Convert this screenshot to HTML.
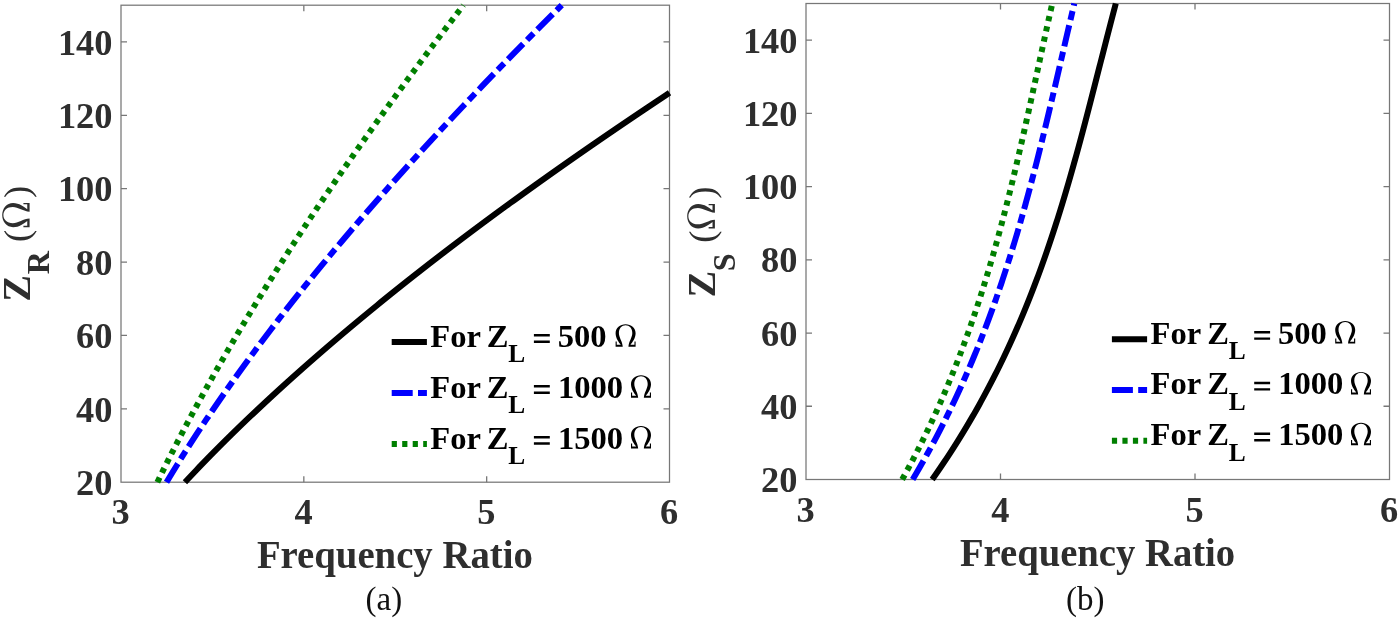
<!DOCTYPE html>
<html><head><meta charset="utf-8"><title>Frequency Ratio plots</title>
<style>html,body{margin:0;padding:0;background:#fff;}body{width:1400px;height:620px;overflow:hidden;font-family:"Liberation Serif",serif;}svg{display:block;will-change:transform;}</style>
</head><body>
<svg width="1400" height="620" viewBox="0 0 1400 620">
<rect width="1400" height="620" fill="#fff"/>
<path d="M303.83,482.20V476.20M303.83,5.20V11.20M486.67,482.20V476.20M486.67,5.20V11.20M121.00,408.82H127.00M669.50,408.82H663.50M121.00,335.43H127.00M669.50,335.43H663.50M121.00,262.05H127.00M669.50,262.05H663.50M121.00,188.66H127.00M669.50,188.66H663.50M121.00,115.28H127.00M669.50,115.28H663.50M121.00,41.89H127.00M669.50,41.89H663.50" stroke="#777777" stroke-width="1.3" fill="none"/><rect x="121.00" y="5.20" width="548.50" height="477.00" fill="none" stroke="#777777" stroke-width="1.25"/>
<path d="M1000.50,479.50V473.50M1000.50,3.50V9.50M1195.00,479.50V473.50M1195.00,3.50V9.50M806.00,406.27H812.00M1389.50,406.27H1383.50M806.00,333.04H812.00M1389.50,333.04H1383.50M806.00,259.81H812.00M1389.50,259.81H1383.50M806.00,186.58H812.00M1389.50,186.58H1383.50M806.00,113.35H812.00M1389.50,113.35H1383.50M806.00,40.12H812.00M1389.50,40.12H1383.50" stroke="#777777" stroke-width="1.3" fill="none"/><rect x="806.00" y="3.50" width="583.50" height="476.00" fill="none" stroke="#777777" stroke-width="1.25"/>
<g fill="none" stroke-width="6.00"><path d="M184.93,482.20 L187.75,479.20 L190.57,476.20 L193.42,473.20 L196.28,470.20 L199.16,467.20 L202.06,464.20 L204.97,461.20 L207.89,458.20 L210.83,455.20 L213.79,452.20 L216.76,449.20 L219.75,446.20 L222.76,443.20 L225.78,440.20 L228.82,437.20 L231.87,434.20 L234.94,431.20 L238.02,428.20 L241.12,425.20 L244.23,422.20 L247.36,419.20 L250.50,416.20 L253.66,413.20 L256.84,410.20 L260.03,407.20 L263.23,404.20 L266.45,401.20 L269.69,398.20 L272.94,395.20 L276.21,392.20 L279.49,389.20 L282.78,386.20 L286.09,383.20 L289.42,380.20 L292.75,377.20 L296.11,374.20 L299.48,371.20 L302.86,368.20 L306.26,365.20 L309.67,362.20 L313.10,359.20 L316.54,356.20 L319.99,353.20 L323.46,350.20 L326.95,347.20 L330.45,344.20 L333.96,341.20 L337.48,338.20 L341.02,335.20 L344.58,332.20 L348.15,329.20 L351.73,326.20 L355.33,323.20 L358.94,320.20 L362.56,317.20 L366.20,314.20 L369.85,311.20 L373.52,308.20 L377.19,305.20 L380.89,302.20 L384.59,299.20 L388.31,296.20 L392.05,293.20 L395.79,290.20 L399.55,287.20 L403.32,284.20 L407.11,281.20 L410.91,278.20 L414.72,275.20 L418.55,272.20 L422.39,269.20 L426.24,266.20 L430.10,263.20 L433.98,260.20 L437.87,257.20 L441.78,254.20 L445.69,251.20 L449.62,248.20 L453.56,245.20 L457.52,242.20 L461.49,239.20 L465.47,236.20 L469.46,233.20 L473.46,230.20 L477.48,227.20 L481.51,224.20 L485.55,221.20 L489.61,218.20 L493.67,215.20 L497.75,212.20 L501.84,209.20 L505.95,206.20 L510.06,203.20 L514.19,200.20 L518.33,197.20 L522.48,194.20 L526.64,191.20 L530.82,188.20 L535.01,185.20 L539.20,182.20 L543.42,179.20 L547.64,176.20 L551.87,173.20 L556.12,170.20 L560.37,167.20 L564.64,164.20 L568.92,161.20 L573.21,158.20 L577.52,155.20 L581.83,152.20 L586.15,149.20 L590.49,146.20 L594.84,143.20 L599.20,140.20 L603.57,137.20 L607.95,134.20 L612.34,131.20 L616.74,128.20 L621.16,125.20 L625.58,122.20 L630.02,119.20 L634.46,116.20 L638.92,113.20 L643.39,110.20 L647.87,107.20 L652.35,104.20 L656.85,101.20 L661.36,98.20 L665.88,95.20 L669.50,92.81" stroke="#000"/><path d="M166.52,482.20 L168.32,479.20 L170.14,476.20 L171.96,473.20 L173.79,470.20 L175.64,467.20 L177.49,464.20 L179.35,461.20 L181.23,458.20 L183.11,455.20 L185.01,452.20 L186.91,449.20 L188.83,446.20 L190.75,443.20 L192.69,440.20 L194.64,437.20 L196.59,434.20 L198.56,431.20 L200.53,428.20 L202.52,425.20 L204.52,422.20 L206.52,419.20 L208.54,416.20 L210.56,413.20 L212.60,410.20 L214.64,407.20 L216.70,404.20 L218.76,401.20 L220.84,398.20 L222.92,395.20 L225.01,392.20 L227.12,389.20 L229.23,386.20 L231.35,383.20 L233.48,380.20 L235.62,377.20 L237.77,374.20 L239.93,371.20 L242.10,368.20 L244.28,365.20 L246.46,362.20 L248.66,359.20 L250.86,356.20 L253.08,353.20 L255.30,350.20 L257.53,347.20 L259.77,344.20 L262.02,341.20 L264.28,338.20 L266.55,335.20 L268.83,332.20 L271.11,329.20 L273.41,326.20 L275.71,323.20 L278.02,320.20 L280.34,317.20 L282.67,314.20 L285.01,311.20 L287.35,308.20 L289.71,305.20 L292.07,302.20 L294.44,299.20 L296.82,296.20 L299.21,293.20 L301.60,290.20 L304.01,287.20 L306.42,284.20 L308.84,281.20 L311.27,278.20 L313.71,275.20 L316.16,272.20 L318.61,269.20 L321.07,266.20 L323.54,263.20 L326.02,260.20 L328.50,257.20 L331.00,254.20 L333.50,251.20 L336.01,248.20 L338.52,245.20 L341.05,242.20 L343.58,239.20 L346.12,236.20 L348.67,233.20 L351.22,230.20 L353.78,227.20 L356.35,224.20 L358.93,221.20 L361.51,218.20 L364.11,215.20 L366.71,212.20 L369.31,209.20 L371.93,206.20 L374.55,203.20 L377.18,200.20 L379.81,197.20 L382.46,194.20 L385.11,191.20 L387.76,188.20 L390.43,185.20 L393.10,182.20 L395.78,179.20 L398.46,176.20 L401.16,173.20 L403.85,170.20 L406.56,167.20 L409.27,164.20 L411.99,161.20 L414.72,158.20 L417.45,155.20 L420.19,152.20 L422.94,149.20 L425.69,146.20 L428.45,143.20 L431.21,140.20 L433.98,137.20 L436.76,134.20 L439.55,131.20 L442.34,128.20 L445.14,125.20 L447.94,122.20 L450.75,119.20 L453.56,116.20 L456.39,113.20 L459.22,110.20 L462.05,107.20 L464.89,104.20 L467.74,101.20 L470.59,98.20 L473.45,95.20 L476.31,92.20 L479.18,89.20 L482.06,86.20 L484.94,83.20 L487.83,80.20 L490.72,77.20 L493.62,74.20 L496.53,71.20 L499.44,68.20 L502.35,65.20 L505.27,62.20 L508.20,59.20 L511.13,56.20 L514.07,53.20 L517.01,50.20 L519.96,47.20 L522.92,44.20 L525.87,41.20 L528.84,38.20 L531.81,35.20 L534.78,32.20 L537.76,29.20 L540.75,26.20 L543.74,23.20 L546.73,20.20 L549.73,17.20 L552.74,14.20 L555.75,11.20 L558.76,8.20 L561.78,5.20" stroke="#0000ff" stroke-dasharray="21.7 5.5 9.2 5.5"/><path d="M157.36,482.20 L158.82,479.20 L160.28,476.20 L161.75,473.20 L163.23,470.20 L164.72,467.20 L166.21,464.20 L167.71,461.20 L169.22,458.20 L170.74,455.20 L172.26,452.20 L173.78,449.20 L175.32,446.20 L176.86,443.20 L178.41,440.20 L179.97,437.20 L181.53,434.20 L183.10,431.20 L184.67,428.20 L186.25,425.20 L187.84,422.20 L189.44,419.20 L191.04,416.20 L192.65,413.20 L194.27,410.20 L195.89,407.20 L197.52,404.20 L199.15,401.20 L200.79,398.20 L202.44,395.20 L204.10,392.20 L205.76,389.20 L207.43,386.20 L209.10,383.20 L210.78,380.20 L212.47,377.20 L214.16,374.20 L215.86,371.20 L217.56,368.20 L219.28,365.20 L220.99,362.20 L222.72,359.20 L224.45,356.20 L226.19,353.20 L227.93,350.20 L229.68,347.20 L231.43,344.20 L233.19,341.20 L234.96,338.20 L236.73,335.20 L238.51,332.20 L240.30,329.20 L242.09,326.20 L243.89,323.20 L245.69,320.20 L247.50,317.20 L249.31,314.20 L251.13,311.20 L252.96,308.20 L254.79,305.20 L256.63,302.20 L258.47,299.20 L260.32,296.20 L262.18,293.20 L264.04,290.20 L265.90,287.20 L267.78,284.20 L269.65,281.20 L271.54,278.20 L273.43,275.20 L275.32,272.20 L277.22,269.20 L279.13,266.20 L281.04,263.20 L282.95,260.20 L284.88,257.20 L286.80,254.20 L288.74,251.20 L290.67,248.20 L292.62,245.20 L294.57,242.20 L296.52,239.20 L298.48,236.20 L300.44,233.20 L302.41,230.20 L304.39,227.20 L306.37,224.20 L308.35,221.20 L310.34,218.20 L312.34,215.20 L314.34,212.20 L316.35,209.20 L318.36,206.20 L320.37,203.20 L322.39,200.20 L324.42,197.20 L326.45,194.20 L328.49,191.20 L330.53,188.20 L332.57,185.20 L334.62,182.20 L336.68,179.20 L338.74,176.20 L340.80,173.20 L342.87,170.20 L344.95,167.20 L347.03,164.20 L349.11,161.20 L351.20,158.20 L353.29,155.20 L355.39,152.20 L357.49,149.20 L359.60,146.20 L361.71,143.20 L363.83,140.20 L365.95,137.20 L368.07,134.20 L370.20,131.20 L372.34,128.20 L374.48,125.20 L376.62,122.20 L378.77,119.20 L380.92,116.20 L383.07,113.20 L385.23,110.20 L387.40,107.20 L389.57,104.20 L391.74,101.20 L393.92,98.20 L396.10,95.20 L398.29,92.20 L400.48,89.20 L402.67,86.20 L404.87,83.20 L407.07,80.20 L409.28,77.20 L411.49,74.20 L413.70,71.20 L415.92,68.20 L418.14,65.20 L420.37,62.20 L422.60,59.20 L424.83,56.20 L427.07,53.20 L429.31,50.20 L431.56,47.20 L433.81,44.20 L436.06,41.20 L438.32,38.20 L440.58,35.20 L442.85,32.20 L445.11,29.20 L447.39,26.20 L449.66,23.20 L451.94,20.20 L454.23,17.20 L456.51,14.20 L458.80,11.20 L461.10,8.20 L463.39,5.20" stroke="#007f00" stroke-dasharray="5.2 5.3"/></g>
<g fill="none" stroke-width="6.00"><path d="M932.18,479.50 L934.28,476.51 L936.37,473.51 L938.43,470.52 L940.48,467.53 L942.50,464.53 L944.51,461.54 L946.50,458.54 L948.47,455.55 L950.42,452.56 L952.35,449.56 L954.27,446.57 L956.17,443.58 L958.05,440.58 L959.91,437.59 L961.75,434.59 L963.58,431.60 L965.39,428.61 L967.18,425.61 L968.96,422.62 L970.71,419.63 L972.46,416.63 L974.18,413.64 L975.89,410.64 L977.58,407.65 L979.26,404.66 L980.92,401.66 L982.56,398.67 L984.19,395.68 L985.80,392.68 L987.40,389.69 L988.98,386.69 L990.55,383.70 L992.10,380.71 L993.64,377.71 L995.16,374.72 L996.67,371.73 L998.16,368.73 L999.64,365.74 L1001.10,362.75 L1002.55,359.75 L1003.99,356.76 L1005.41,353.76 L1006.82,350.77 L1008.22,347.78 L1009.60,344.78 L1010.97,341.79 L1012.33,338.80 L1013.67,335.80 L1015.00,332.81 L1016.32,329.81 L1017.63,326.82 L1018.92,323.83 L1020.20,320.83 L1021.47,317.84 L1022.73,314.85 L1023.97,311.85 L1025.21,308.86 L1026.43,305.86 L1027.64,302.87 L1028.84,299.88 L1030.03,296.88 L1031.21,293.89 L1032.37,290.90 L1033.53,287.90 L1034.67,284.91 L1035.81,281.92 L1036.94,278.92 L1038.05,275.93 L1039.16,272.93 L1040.25,269.94 L1041.34,266.95 L1042.41,263.95 L1043.48,260.96 L1044.54,257.97 L1045.59,254.97 L1046.63,251.98 L1047.66,248.98 L1048.68,245.99 L1049.69,243.00 L1050.70,240.00 L1051.70,237.01 L1052.69,234.02 L1053.67,231.02 L1054.64,228.03 L1055.61,225.03 L1056.57,222.04 L1057.52,219.05 L1058.46,216.05 L1059.40,213.06 L1060.33,210.07 L1061.25,207.07 L1062.17,204.08 L1063.08,201.08 L1063.98,198.09 L1064.88,195.10 L1065.77,192.10 L1066.65,189.11 L1067.53,186.12 L1068.41,183.12 L1069.27,180.13 L1070.14,177.14 L1070.99,174.14 L1071.85,171.15 L1072.69,168.15 L1073.54,165.16 L1074.37,162.17 L1075.21,159.17 L1076.04,156.18 L1076.86,153.19 L1077.68,150.19 L1078.50,147.20 L1079.31,144.20 L1080.12,141.21 L1080.93,138.22 L1081.73,135.22 L1082.53,132.23 L1083.32,129.24 L1084.12,126.24 L1084.91,123.25 L1085.69,120.25 L1086.48,117.26 L1087.26,114.27 L1088.04,111.27 L1088.82,108.28 L1089.59,105.29 L1090.37,102.29 L1091.14,99.30 L1091.91,96.31 L1092.68,93.31 L1093.45,90.32 L1094.22,87.32 L1094.98,84.33 L1095.75,81.34 L1096.51,78.34 L1097.28,75.35 L1098.04,72.36 L1098.80,69.36 L1099.57,66.37 L1100.33,63.37 L1101.09,60.38 L1101.86,57.39 L1102.62,54.39 L1103.39,51.40 L1104.15,48.41 L1104.92,45.41 L1105.68,42.42 L1106.45,39.42 L1107.22,36.43 L1107.99,33.44 L1108.77,30.44 L1109.54,27.45 L1110.32,24.46 L1111.09,21.46 L1111.88,18.47 L1112.66,15.47 L1113.44,12.48 L1114.23,9.49 L1115.02,6.49 L1115.81,3.50" stroke="#000"/><path d="M912.68,479.50 L914.44,476.51 L916.20,473.51 L917.93,470.52 L919.66,467.53 L921.36,464.53 L923.06,461.54 L924.73,458.54 L926.40,455.55 L928.05,452.56 L929.68,449.56 L931.31,446.57 L932.91,443.58 L934.51,440.58 L936.09,437.59 L937.65,434.59 L939.20,431.60 L940.74,428.61 L942.27,425.61 L943.78,422.62 L945.28,419.63 L946.76,416.63 L948.24,413.64 L949.70,410.64 L951.15,407.65 L952.58,404.66 L954.00,401.66 L955.41,398.67 L956.81,395.68 L958.19,392.68 L959.57,389.69 L960.93,386.69 L962.28,383.70 L963.61,380.71 L964.94,377.71 L966.25,374.72 L967.56,371.73 L968.85,368.73 L970.13,365.74 L971.40,362.75 L972.66,359.75 L973.90,356.76 L975.14,353.76 L976.36,350.77 L977.58,347.78 L978.78,344.78 L979.98,341.79 L981.16,338.80 L982.33,335.80 L983.50,332.81 L984.65,329.81 L985.79,326.82 L986.93,323.83 L988.05,320.83 L989.17,317.84 L990.27,314.85 L991.37,311.85 L992.45,308.86 L993.53,305.86 L994.60,302.87 L995.66,299.88 L996.71,296.88 L997.75,293.89 L998.79,290.90 L999.81,287.90 L1000.83,284.91 L1001.84,281.92 L1002.84,278.92 L1003.83,275.93 L1004.81,272.93 L1005.79,269.94 L1006.76,266.95 L1007.72,263.95 L1008.67,260.96 L1009.62,257.97 L1010.56,254.97 L1011.49,251.98 L1012.41,248.98 L1013.33,245.99 L1014.24,243.00 L1015.15,240.00 L1016.04,237.01 L1016.94,234.02 L1017.82,231.02 L1018.70,228.03 L1019.57,225.03 L1020.44,222.04 L1021.29,219.05 L1022.15,216.05 L1023.00,213.06 L1023.84,210.07 L1024.68,207.07 L1025.51,204.08 L1026.33,201.08 L1027.15,198.09 L1027.97,195.10 L1028.78,192.10 L1029.58,189.11 L1030.39,186.12 L1031.18,183.12 L1031.97,180.13 L1032.76,177.14 L1033.54,174.14 L1034.32,171.15 L1035.09,168.15 L1035.86,165.16 L1036.63,162.17 L1037.39,159.17 L1038.15,156.18 L1038.90,153.19 L1039.65,150.19 L1040.40,147.20 L1041.15,144.20 L1041.89,141.21 L1042.62,138.22 L1043.36,135.22 L1044.09,132.23 L1044.82,129.24 L1045.55,126.24 L1046.27,123.25 L1046.99,120.25 L1047.71,117.26 L1048.43,114.27 L1049.14,111.27 L1049.85,108.28 L1050.56,105.29 L1051.27,102.29 L1051.98,99.30 L1052.68,96.31 L1053.39,93.31 L1054.09,90.32 L1054.79,87.32 L1055.49,84.33 L1056.19,81.34 L1056.89,78.34 L1057.58,75.35 L1058.28,72.36 L1058.97,69.36 L1059.67,66.37 L1060.36,63.37 L1061.06,60.38 L1061.75,57.39 L1062.44,54.39 L1063.14,51.40 L1063.83,48.41 L1064.53,45.41 L1065.22,42.42 L1065.91,39.42 L1066.61,36.43 L1067.31,33.44 L1068.00,30.44 L1068.70,27.45 L1069.40,24.46 L1070.10,21.46 L1070.80,18.47 L1071.50,15.47 L1072.20,12.48 L1072.91,9.49 L1073.61,6.49 L1074.32,3.50" stroke="#0000ff" stroke-dasharray="21.7 5.5 9.2 5.5"/><path d="M902.17,479.50 L903.82,476.51 L905.46,473.51 L907.09,470.52 L908.71,467.53 L910.31,464.53 L911.89,461.54 L913.46,458.54 L915.02,455.55 L916.56,452.56 L918.09,449.56 L919.60,446.57 L921.11,443.58 L922.59,440.58 L924.07,437.59 L925.53,434.59 L926.98,431.60 L928.42,428.61 L929.84,425.61 L931.25,422.62 L932.65,419.63 L934.03,416.63 L935.40,413.64 L936.76,410.64 L938.11,407.65 L939.44,404.66 L940.77,401.66 L942.08,398.67 L943.38,395.68 L944.67,392.68 L945.94,389.69 L947.21,386.69 L948.46,383.70 L949.70,380.71 L950.93,377.71 L952.15,374.72 L953.36,371.73 L954.56,368.73 L955.74,365.74 L956.92,362.75 L958.09,359.75 L959.24,356.76 L960.39,353.76 L961.52,350.77 L962.64,347.78 L963.76,344.78 L964.86,341.79 L965.96,338.80 L967.04,335.80 L968.12,332.81 L969.18,329.81 L970.24,326.82 L971.29,323.83 L972.33,320.83 L973.35,317.84 L974.38,314.85 L975.39,311.85 L976.39,308.86 L977.38,305.86 L978.37,302.87 L979.34,299.88 L980.31,296.88 L981.27,293.89 L982.23,290.90 L983.17,287.90 L984.11,284.91 L985.04,281.92 L985.96,278.92 L986.87,275.93 L987.78,272.93 L988.67,269.94 L989.57,266.95 L990.45,263.95 L991.33,260.96 L992.20,257.97 L993.06,254.97 L993.92,251.98 L994.77,248.98 L995.61,245.99 L996.45,243.00 L997.28,240.00 L998.10,237.01 L998.92,234.02 L999.74,231.02 L1000.54,228.03 L1001.35,225.03 L1002.14,222.04 L1002.93,219.05 L1003.72,216.05 L1004.50,213.06 L1005.27,210.07 L1006.04,207.07 L1006.80,204.08 L1007.56,201.08 L1008.32,198.09 L1009.07,195.10 L1009.81,192.10 L1010.55,189.11 L1011.29,186.12 L1012.02,183.12 L1012.75,180.13 L1013.47,177.14 L1014.19,174.14 L1014.91,171.15 L1015.62,168.15 L1016.33,165.16 L1017.04,162.17 L1017.74,159.17 L1018.44,156.18 L1019.14,153.19 L1019.83,150.19 L1020.52,147.20 L1021.21,144.20 L1021.89,141.21 L1022.57,138.22 L1023.25,135.22 L1023.93,132.23 L1024.60,129.24 L1025.28,126.24 L1025.95,123.25 L1026.61,120.25 L1027.28,117.26 L1027.95,114.27 L1028.61,111.27 L1029.27,108.28 L1029.93,105.29 L1030.59,102.29 L1031.25,99.30 L1031.90,96.31 L1032.56,93.31 L1033.21,90.32 L1033.87,87.32 L1034.52,84.33 L1035.17,81.34 L1035.82,78.34 L1036.47,75.35 L1037.12,72.36 L1037.78,69.36 L1038.43,66.37 L1039.08,63.37 L1039.73,60.38 L1040.38,57.39 L1041.03,54.39 L1041.68,51.40 L1042.34,48.41 L1042.99,45.41 L1043.65,42.42 L1044.30,39.42 L1044.96,36.43 L1045.62,33.44 L1046.27,30.44 L1046.93,27.45 L1047.60,24.46 L1048.26,21.46 L1048.92,18.47 L1049.59,15.47 L1050.26,12.48 L1050.93,9.49 L1051.60,6.49 L1052.28,3.50" stroke="#007f00" stroke-dasharray="5.2 5.3"/></g>
<g font-family="Liberation Serif" fill="#2e2e2e">
<text x="76.09" y="494.90" font-size="36.40" font-weight="bold">20</text><text x="76.09" y="421.52" font-size="36.40" font-weight="bold">40</text><text x="76.09" y="348.13" font-size="36.40" font-weight="bold">60</text><text x="76.09" y="274.75" font-size="36.40" font-weight="bold">80</text><text x="57.89" y="201.36" font-size="36.40" font-weight="bold">100</text><text x="57.89" y="127.98" font-size="36.40" font-weight="bold">120</text><text x="57.89" y="54.59" font-size="36.40" font-weight="bold">140</text><text x="111.54" y="523.80" font-size="36.40" font-weight="bold">3</text><text x="294.52" y="523.80" font-size="36.40" font-weight="bold">4</text><text x="477.20" y="523.80" font-size="36.40" font-weight="bold">5</text><text x="660.01" y="523.80" font-size="36.40" font-weight="bold">6</text>
<text x="761.09" y="492.10" font-size="36.40" font-weight="bold">20</text><text x="761.09" y="418.87" font-size="36.40" font-weight="bold">40</text><text x="761.09" y="345.64" font-size="36.40" font-weight="bold">60</text><text x="761.09" y="272.41" font-size="36.40" font-weight="bold">80</text><text x="742.89" y="199.18" font-size="36.40" font-weight="bold">100</text><text x="742.89" y="125.95" font-size="36.40" font-weight="bold">120</text><text x="742.89" y="52.72" font-size="36.40" font-weight="bold">140</text><text x="796.54" y="521.50" font-size="36.40" font-weight="bold">3</text><text x="991.19" y="521.50" font-size="36.40" font-weight="bold">4</text><text x="1185.54" y="521.50" font-size="36.40" font-weight="bold">5</text><text x="1380.01" y="521.50" font-size="36.40" font-weight="bold">6</text>
<text x="256.94" y="568.00" font-size="39.60" font-weight="bold" textLength="275.93" lengthAdjust="spacingAndGlyphs">Frequency Ratio</text>
<text x="959.94" y="565.90" font-size="39.60" font-weight="bold" textLength="275.23" lengthAdjust="spacingAndGlyphs">Frequency Ratio</text>
<g transform="rotate(-90)"><text x="-301.71" y="30.00" font-size="40.00" font-weight="bold">Z</text><text x="-274.35" y="49.30" font-size="32.00" font-weight="bold">R</text><text x="-242.11" y="28.60" font-size="36.70" font-weight="normal">(</text><text x="-197.91" y="28.60" font-size="36.70" font-weight="normal">)</text></g><path transform="translate(29.60,227.20) rotate(-90) scale(0.0598,0.0589) translate(-5,-465)" d="M5,465 L150,465 C145,360 72,270 72,180 C72,80 130,20 207.5,20 C285,20 343,80 343,180 C343,270 270,360 265,465 L410,465 L410,360 L387,360 L387,425 L305,425 C345,370 410,290 410,185 C410,75 320,0 207.5,0 C95,0 5,75 5,185 C5,290 70,370 110,425 L28,425 L28,360 L5,360 Z" fill="#2e2e2e"/>
<g transform="rotate(-90)"><text x="-297.61" y="714.80" font-size="40.00" font-weight="bold">Z</text><text x="-271.20" y="734.80" font-size="32.00" font-weight="bold">S</text><text x="-242.71" y="713.60" font-size="36.70" font-weight="normal">(</text><text x="-198.81" y="713.60" font-size="36.70" font-weight="normal">)</text></g><path transform="translate(714.90,228.40) rotate(-90) scale(0.0605,0.0596) translate(-5,-465)" d="M5,465 L150,465 C145,360 72,270 72,180 C72,80 130,20 207.5,20 C285,20 343,80 343,180 C343,270 270,360 265,465 L410,465 L410,360 L387,360 L387,425 L305,425 C345,370 410,290 410,185 C410,75 320,0 207.5,0 C95,0 5,75 5,185 C5,290 70,370 110,425 L28,425 L28,360 L5,360 Z" fill="#2e2e2e"/>
</g>
<g font-family="Liberation Serif" fill="#111">
<text x="365.59" y="610.27" font-size="33.00" font-weight="normal">(a)</text>
<text x="1066.06" y="610.07" font-size="33.00" font-weight="normal">(b)</text>
</g>
<g font-family="Liberation Serif">
<line x1="391.70" y1="342.10" x2="426.90" y2="342.10" stroke="#000" stroke-width="6"/><text x="430.24" y="346.70" font-size="32.60" font-weight="bold" fill="#000">For</text><text x="486.84" y="346.70" font-size="32.60" font-weight="bold" fill="#000">Z</text><text x="508.37" y="362.00" font-size="25.40" font-weight="bold" fill="#000">L</text><path d="M533.90,334.10h15.9v2.5h-15.9z M533.90,340.50h15.9v2.4h-15.9z" fill="#000"/><text x="557.69" y="346.70" font-size="32.60" font-weight="bold" fill="#000">500</text><path transform="translate(615.60,346.70) scale(0.0494,0.0484) translate(-5,-465)" d="M5,465 L150,465 C145,360 72,270 72,180 C72,80 130,20 207.5,20 C285,20 343,80 343,180 C343,270 270,360 265,465 L410,465 L410,360 L387,360 L387,425 L305,425 C345,370 410,290 410,185 C410,75 320,0 207.5,0 C95,0 5,75 5,185 C5,290 70,370 110,425 L28,425 L28,360 L5,360 Z" fill="#000"/><line x1="391.70" y1="393.10" x2="426.90" y2="393.10" stroke="#0000ff" stroke-width="6" stroke-dasharray="21 5.3 9 5.3"/><text x="430.24" y="397.70" font-size="32.60" font-weight="bold" fill="#000">For</text><text x="486.84" y="397.70" font-size="32.60" font-weight="bold" fill="#000">Z</text><text x="508.37" y="413.00" font-size="25.40" font-weight="bold" fill="#000">L</text><path d="M533.90,385.10h15.9v2.5h-15.9z M533.90,391.50h15.9v2.4h-15.9z" fill="#000"/><text x="557.89" y="397.70" font-size="32.60" font-weight="bold" fill="#000">1000</text><path transform="translate(631.00,397.70) scale(0.0494,0.0484) translate(-5,-465)" d="M5,465 L150,465 C145,360 72,270 72,180 C72,80 130,20 207.5,20 C285,20 343,80 343,180 C343,270 270,360 265,465 L410,465 L410,360 L387,360 L387,425 L305,425 C345,370 410,290 410,185 C410,75 320,0 207.5,0 C95,0 5,75 5,185 C5,290 70,370 110,425 L28,425 L28,360 L5,360 Z" fill="#000"/><line x1="391.70" y1="443.90" x2="426.90" y2="443.90" stroke="#007f00" stroke-width="6" stroke-dasharray="5.2 5.3"/><text x="430.24" y="448.50" font-size="32.60" font-weight="bold" fill="#000">For</text><text x="486.84" y="448.50" font-size="32.60" font-weight="bold" fill="#000">Z</text><text x="508.37" y="463.80" font-size="25.40" font-weight="bold" fill="#000">L</text><path d="M533.90,435.90h15.9v2.5h-15.9z M533.90,442.30h15.9v2.4h-15.9z" fill="#000"/><text x="557.89" y="448.50" font-size="32.60" font-weight="bold" fill="#000">1500</text><path transform="translate(631.00,448.50) scale(0.0494,0.0484) translate(-5,-465)" d="M5,465 L150,465 C145,360 72,270 72,180 C72,80 130,20 207.5,20 C285,20 343,80 343,180 C343,270 270,360 265,465 L410,465 L410,360 L387,360 L387,425 L305,425 C345,370 410,290 410,185 C410,75 320,0 207.5,0 C95,0 5,75 5,185 C5,290 70,370 110,425 L28,425 L28,360 L5,360 Z" fill="#000"/>
<line x1="1111.90" y1="339.20" x2="1147.10" y2="339.20" stroke="#000" stroke-width="6"/><text x="1150.54" y="343.60" font-size="32.60" font-weight="bold" fill="#000">For</text><text x="1207.14" y="343.60" font-size="32.60" font-weight="bold" fill="#000">Z</text><text x="1228.67" y="358.90" font-size="25.40" font-weight="bold" fill="#000">L</text><path d="M1254.20,331.00h15.9v2.5h-15.9z M1254.20,337.40h15.9v2.4h-15.9z" fill="#000"/><text x="1277.99" y="343.60" font-size="32.60" font-weight="bold" fill="#000">500</text><path transform="translate(1335.20,343.60) scale(0.0494,0.0484) translate(-5,-465)" d="M5,465 L150,465 C145,360 72,270 72,180 C72,80 130,20 207.5,20 C285,20 343,80 343,180 C343,270 270,360 265,465 L410,465 L410,360 L387,360 L387,425 L305,425 C345,370 410,290 410,185 C410,75 320,0 207.5,0 C95,0 5,75 5,185 C5,290 70,370 110,425 L28,425 L28,360 L5,360 Z" fill="#000"/><line x1="1111.90" y1="390.00" x2="1147.10" y2="390.00" stroke="#0000ff" stroke-width="6" stroke-dasharray="21 5.3 9 5.3"/><text x="1150.54" y="394.40" font-size="32.60" font-weight="bold" fill="#000">For</text><text x="1207.14" y="394.40" font-size="32.60" font-weight="bold" fill="#000">Z</text><text x="1228.67" y="409.70" font-size="25.40" font-weight="bold" fill="#000">L</text><path d="M1254.20,381.80h15.9v2.5h-15.9z M1254.20,388.20h15.9v2.4h-15.9z" fill="#000"/><text x="1278.19" y="394.40" font-size="32.60" font-weight="bold" fill="#000">1000</text><path transform="translate(1351.00,394.40) scale(0.0494,0.0484) translate(-5,-465)" d="M5,465 L150,465 C145,360 72,270 72,180 C72,80 130,20 207.5,20 C285,20 343,80 343,180 C343,270 270,360 265,465 L410,465 L410,360 L387,360 L387,425 L305,425 C345,370 410,290 410,185 C410,75 320,0 207.5,0 C95,0 5,75 5,185 C5,290 70,370 110,425 L28,425 L28,360 L5,360 Z" fill="#000"/><line x1="1111.90" y1="440.80" x2="1147.10" y2="440.80" stroke="#007f00" stroke-width="6" stroke-dasharray="5.2 5.3"/><text x="1150.54" y="445.20" font-size="32.60" font-weight="bold" fill="#000">For</text><text x="1207.14" y="445.20" font-size="32.60" font-weight="bold" fill="#000">Z</text><text x="1228.67" y="460.50" font-size="25.40" font-weight="bold" fill="#000">L</text><path d="M1254.20,432.60h15.9v2.5h-15.9z M1254.20,439.00h15.9v2.4h-15.9z" fill="#000"/><text x="1278.19" y="445.20" font-size="32.60" font-weight="bold" fill="#000">1500</text><path transform="translate(1351.00,445.20) scale(0.0494,0.0484) translate(-5,-465)" d="M5,465 L150,465 C145,360 72,270 72,180 C72,80 130,20 207.5,20 C285,20 343,80 343,180 C343,270 270,360 265,465 L410,465 L410,360 L387,360 L387,425 L305,425 C345,370 410,290 410,185 C410,75 320,0 207.5,0 C95,0 5,75 5,185 C5,290 70,370 110,425 L28,425 L28,360 L5,360 Z" fill="#000"/>
</g>
</svg>
</body></html>
